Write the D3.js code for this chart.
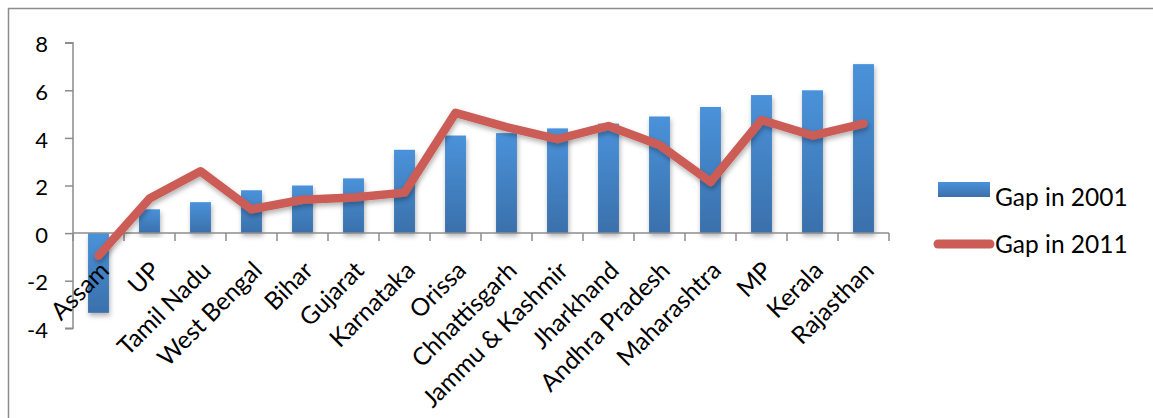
<!DOCTYPE html>
<html><head><meta charset="utf-8">
<script src="https://cdn.jsdelivr.net/npm/d3@7"></script>
<style>body{margin:0;background:#fff}svg{display:block}text{font-family:Lato,"Open Sans",sans-serif;fill:#000}</style>
</head><body>
<svg id="c" width="1153" height="418"></svg>
<script>
const categories = ["Assam","UP","Tamil Nadu","West Bengal","Bihar","Gujarat","Karnataka","Orissa","Chhattisgarh","Jammu & Kashmir","Jharkhand","Andhra Pradesh","Maharashtra","MP","Kerala","Rajasthan"];
const gap2001 = [-3.35,1.0,1.3,1.8,2.0,2.3,3.5,4.1,4.2,4.4,4.6,4.9,5.3,5.8,6.0,7.1];
const gap2011 = [-0.95,1.45,2.6,1.0,1.4,1.5,1.7,5.05,4.45,3.95,4.5,3.7,2.15,4.75,4.1,4.6];
const yTicks = [-4,-2,0,2,4,6,8];
const seriesNames = ["Gap in 2001","Gap in 2011"];

const svg = d3.select("#c");
const defs = svg.append("defs");
const g = defs.append("linearGradient").attr("id","bg").attr("x1",0).attr("y1",0).attr("x2",0).attr("y2",1);
g.append("stop").attr("offset","0%").attr("stop-color","#4A92DA");
g.append("stop").attr("offset","100%").attr("stop-color","#3A70AB");
const f = defs.append("filter").attr("id","sh").attr("x","-30%").attr("y","-10%").attr("width","160%").attr("height","130%");
f.append("feDropShadow").attr("dx",1).attr("dy",3).attr("stdDeviation",2.5).attr("flood-color","#000").attr("flood-opacity",0.3);

svg.append("rect").attr("x",8.5).attr("y",8.5).attr("width",1160).attr("height",420)
  .attr("fill","none").attr("stroke","#8c8c8c").attr("stroke-width",1.5);

const x = d3.scaleBand().domain(categories).range([73,889]).paddingInner(0.59).paddingOuter(0.295);
const xc = d3.scaleBand().domain(categories).range([73,889]);
const y = d3.scaleLinear().domain([-4,8]).range([328.3,42.7]);

// y axis
const ya = svg.append("g").attr("transform","translate(73,0)")
  .call(d3.axisLeft(y).tickValues(yTicks).tickSize(8).tickPadding(17).tickFormat(d=>String(d)));
ya.select(".domain").attr("stroke","#8c8c8c").attr("stroke-width",1.5).attr("d","M-8,"+y(8)+"H0V"+y(-4)+"H-8");
ya.selectAll(".tick line").attr("stroke","#8c8c8c").attr("stroke-width",1.5);
ya.selectAll(".tick text").attr("font-size",22).attr("dy","0.42em").style("font-family","Lato,sans-serif");

// bars
svg.append("g").selectAll("rect").data(gap2001).join("rect")
  .attr("x",(d,i)=>x(categories[i])).attr("width",x.bandwidth())
  .attr("y",d=>y(Math.max(0,d))).attr("height",d=>Math.abs(y(d)-y(0)))
  .attr("fill","url(#bg)").attr("filter","url(#sh)");

// x axis
const xa = svg.append("g").attr("transform","translate(0,"+y(0)+")");
xa.append("path").attr("d","M73,0H889").attr("stroke","#8c8c8c").attr("stroke-width",1.5);
xa.selectAll("line").data(d3.range(categories.length+1)).join("line")
  .attr("x1",i=>73+xc.step()*i).attr("x2",i=>73+xc.step()*i).attr("y1",0).attr("y2",8)
  .attr("stroke","#8c8c8c").attr("stroke-width",1.5);
svg.append("g").selectAll("text").data(categories).join("text")
  .attr("transform",d=>"translate("+(xc(d)+xc.bandwidth()/2+12)+",272) rotate(-45)")
  .attr("text-anchor","end").attr("font-size",24.5).text(d=>d);

// line
const line = d3.line().x((d,i)=>xc(categories[i])+xc.bandwidth()/2).y(d=>y(d));
svg.append("path").datum(gap2011).attr("d",line).attr("fill","none")
  .attr("stroke","#CB5C56").attr("stroke-width",8.5).attr("stroke-linejoin","round").attr("stroke-linecap","round")
  .attr("filter","url(#sh)");

// legend
const lg = svg.append("g");
lg.append("rect").attr("x",938).attr("y",182).attr("width",52).attr("height",15).attr("fill","url(#bg)");
lg.append("line").attr("x1",938).attr("x2",990).attr("y1",244).attr("y2",244)
  .attr("stroke","#CB5C56").attr("stroke-width",9).attr("stroke-linecap","round");
lg.append("text").attr("x",995).attr("y",197).attr("dy","0.35em").attr("font-size",24.5).text(seriesNames[0]);
lg.append("text").attr("x",995).attr("y",244).attr("dy","0.35em").attr("font-size",24.5).text(seriesNames[1]);
</script>
</body></html>
